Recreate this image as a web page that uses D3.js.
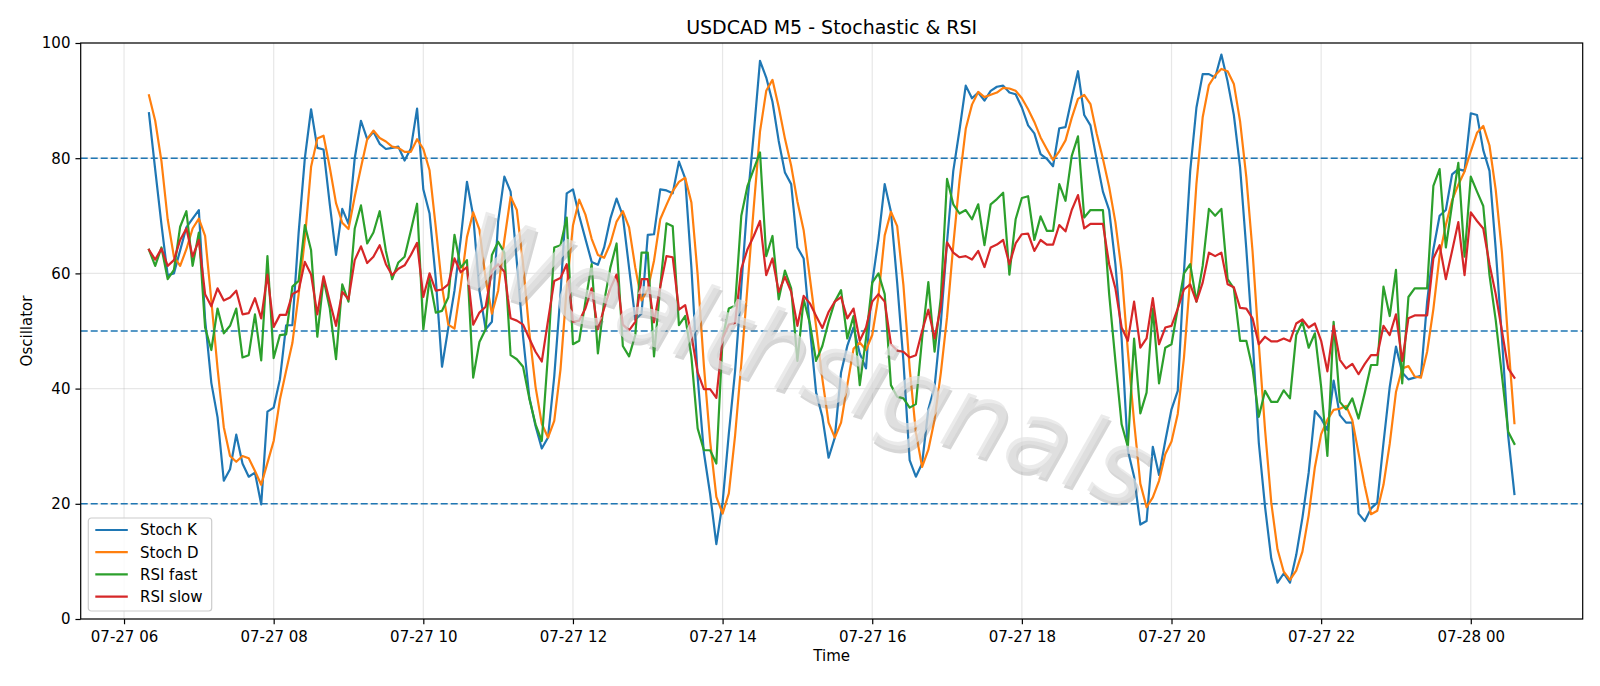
<!DOCTYPE html>
<html><head><meta charset="utf-8">
<script src="https://cdn.jsdelivr.net/npm/d3@7/dist/d3.min.js"></script>
<style>
body{margin:0;background:#fff;}
svg{display:block;}
text{font-family:"DejaVu Sans",sans-serif;fill:#000;}
</style>
</head><body>
<svg id="chart" width="1600" height="686"></svg>
<script>
// ---- data (M5 bars from 07-27 06:20 to 07-28 00:35) ----
const startTime = new Date(2024, 6, 27, 6, 20);
const stepMinutes = 5;
const stochK = [87.8,78,68.5,59.7,60,64,68,69.5,71,52,41,35,24,26,32,27,24.7,25.4,19.9,36,
36.7,41.6,51,51,67,80,88.5,81.8,81.5,72,63.2,71.2,68.6,80,86.5,83.3,84.6,82.5,81.6,81.8,
82,79.6,81.7,88.6,74.6,70.4,59,43.8,50.5,57,66,75.9,70,57,50.3,51.6,69,76.8,74.2,62,
49,38.5,33.5,29.6,31.5,42.1,56.4,73.9,74.6,70,66,62,61.5,64.5,69.5,73,70,61,52,53,
66.7,66.8,74.6,74.4,73.9,79.4,76.5,61,42,28.9,21.7,13,20.2,32.2,43,57.7,72.6,84.3,96.9,94,
89.8,83,77.5,75.5,64.5,62.6,50.6,39.3,35.1,28,31.5,42.8,47.4,50.6,46.1,43.5,58.4,66,75.5,70.7,
58.4,44.8,27.6,24.7,27,36.4,40.3,51.3,65.5,77.8,84.9,92.6,90.4,91.4,90,91.7,92.4,92.6,91.4,91.1,
88.8,85.7,84.3,80.7,79.9,78.6,85.2,85.4,90.4,95.1,87.5,85.7,79.7,74.2,71,61.6,48.7,29.3,24.7,16.4,
17,29.9,25,30.9,36.4,39.6,60.3,77.8,88.8,94.6,94.6,94,98,93.3,87.5,78.4,64.2,48.7,30.6,19.5,
10.5,6.3,7.9,6.3,11.1,17.6,25.4,36.1,34.8,32.8,41.4,35.4,34.1,34.1,18.3,17,19.2,20.2,30.6,40.3,
47.3,42.8,41.6,41.9,42.2,55.1,64.2,70,71,77.2,78.1,77.8,87.8,87.5,81.4,77.8,64.2,48.7,31.8,21.7];
const stochD = [90.9,86.5,79.5,69.4,62.9,61.3,64.2,67.8,69.5,66.5,55.3,43.5,33.3,28.3,27.3,28.3,27.9,25.7,23.3,27.1,
30.9,38.1,43.1,47.9,56.3,66,78.5,83.4,83.9,78.4,72.2,68.8,67.7,73.3,78.4,83.3,84.8,83.5,82.9,82,
81.8,81.1,81.1,83.3,81.6,77.9,68,57.7,51.1,50.4,57.8,66.3,70.6,67.6,59.1,53,57,65.8,73.3,71,
61.7,49.8,40.3,33.9,31.5,34.4,43.3,57.5,68.3,72.8,70.2,66,63.2,62.7,65.2,69,70.8,68,61,55.3,
57.2,62.2,69.4,71.9,74.3,75.9,76.6,72.3,59.8,44,30.9,21.2,18.3,21.8,31.8,44.3,57.8,71.5,84.6,91.7,
93.6,88.9,83.4,78.7,72.5,67.5,59.2,50.8,41.7,34.1,31.5,34.1,40.6,46.9,48,46.7,49.3,56,66.6,70.7,
68.2,58,43.6,32.4,26.4,29.4,34.6,42.7,52.4,64.9,76.1,85.1,89.3,91.5,90.6,91,91.4,92.2,92.1,91.7,
90.4,88.5,86.3,83.6,81.6,79.7,81.2,83.1,87,90.3,91,89.4,84.3,79.9,75,68.9,60.4,46.5,34.2,23.5,
19.4,21.1,24,28.6,30.8,35.6,45.4,59.2,75.6,87.1,92.7,94.4,95.5,95.1,92.9,86.4,76.7,63.8,47.8,32.9,
20.2,12.1,8.2,6.8,8.4,11.7,18,26.4,32.1,34.6,36.3,36.5,37,34.5,28.8,23.1,18.2,18.8,23.3,30.4,
39.4,43.5,43.9,42.1,41.9,46.4,53.8,63.1,68.4,72.7,75.4,77.7,81.2,84.4,85.6,82.2,74.5,63.6,48.2,34];
const rsiFast = [64.1,61.3,64.5,59,60.6,68.1,70.8,61.3,67.1,50.6,46.7,53.9,49.6,50.9,53.9,45.4,45.8,52.9,44.9,63,
45.3,49.3,49.4,57.7,58.7,68.4,64,49,59,53.9,45.1,58.1,55.1,67.8,71.8,65.2,67.1,70.8,63.9,59,
61.9,62.9,67.4,72.1,50.3,59,53.2,53.5,55.8,66.7,61,62.3,41.9,48.1,50.3,63.2,65.5,63.6,45.8,45.1,
43.8,38.3,33.8,30.9,46,64.5,64.9,69.7,47.7,48.3,55.1,61.6,46.1,55.1,61,65.2,47.4,45.6,49.3,63.6,
63.6,45.6,57.7,68.7,68.2,51,52.6,45.5,33.1,29.3,29.3,27,48.7,53.9,54.4,70,75.2,78.1,81,63,
66.5,55.5,60.5,57.4,44.8,55.5,51.3,44.8,47.4,51.6,55.1,57.1,48.7,52.6,40.6,48.7,58.4,60,56.4,40.6,
38.6,38.3,36.7,37.3,48.7,58.5,46.4,55.8,76.4,72,70.4,71,69.4,72,64.9,72,72.9,74,59.8,69.4,
73.1,73.4,65.8,69.9,67.4,67.4,75.5,72.6,80.4,83.8,69.7,71,71,71,56.4,44.8,33.8,29.9,48.7,35.7,
39.3,53.9,40.9,47.1,47.7,53.9,60,61.6,55.1,61.3,71.2,70,71.2,59,57.4,48.3,48.3,43.5,35.1,39.6,
37.7,37.7,39.7,38.3,49.3,51.6,47.1,49.6,40.3,28.3,51.6,37.7,36.4,38.3,34.8,39.3,44.1,44.1,57.7,52.6,
60.6,40.9,55.9,57.4,57.4,57.4,75.2,78.1,64.5,72,79.2,62.9,76.8,74.2,71.7,59.7,51.9,42.2,32.5,30.4];
const rsiSlow = [64.1,62.4,64.3,61.3,62.3,65.8,67.8,62.9,65.8,56.4,54.3,57.4,55.3,55.8,57,52.9,53.1,55.7,52.2,59.8,
50.7,52.8,52.8,56.4,57,62,59.8,52.9,59.5,55.1,50.9,56.8,55.5,62.3,64.7,61.8,62.9,64.9,61.6,59.7,
60.8,61.4,63.2,65.3,55.9,60,57,57.2,58.1,62.6,60.2,61.1,51.1,53.2,54.2,60.5,61.6,60.3,52.2,51.8,
51.1,48.7,46.4,44.7,51.8,58.7,59.2,61.6,51.6,51.8,53.9,57.4,50.3,53.9,57.4,59.8,51.1,50.1,51.6,59,
59,51.5,57.7,63,62.8,53.7,54.5,49.3,42.8,39.9,39.9,38.4,48.7,51.1,51.4,60.8,64.2,66.5,69.1,59.7,
62.6,56.8,59.4,56.8,50.9,56.1,54.8,52.6,50.5,53.3,55.1,55.9,52.2,53.9,48.3,50.6,55.1,56.4,55.1,47.7,
46.6,46.4,45.4,45.8,50,53.7,48.7,54.2,65.4,63.6,62.8,63,62.4,63.9,61.1,64.5,65,65.8,61.6,65.2,
66.8,66.9,63.9,65.8,65,65,68.4,67.3,71,73.6,67.8,68.6,68.6,68.6,61.6,57.4,50.6,48.3,55.1,47.1,
48.7,55.7,47.7,50.6,50.9,53.9,57.2,58.1,55.1,58.4,63.6,63,63.6,58.1,57.6,54,53.9,52.2,47.7,49,
48.2,48.2,48.7,48.2,51.3,52,50.6,51.3,48.3,43,50.9,45,43.5,44.3,42.5,44.3,45.8,45.8,50.9,49.3,
52.9,44.8,52.2,52.7,52.7,52.7,62.6,64.9,59,63.9,68.9,59.7,70.6,69.1,67.8,61.6,56.4,50,43.5,41.9];
const seriesNames = ["Stoch K","Stoch D","RSI fast","RSI slow"];
const seriesColors = ["#1f77b4","#ff7f0e","#2ca02c","#d62728"];
const yTicks = [0,20,40,60,80,100];
const levels = [20,50,80];
const titleText = "USDCAD M5 - Stochastic & RSI";
const xLabel = "Time";
const yLabel = "Oscillator";
const watermark = "Wealthsignals";

// ---- build ----
const times = stochK.map((_, i) => d3.timeMinute.offset(startTime, i * stepMinutes));
const allSeries = [stochK, stochD, rsiFast, rsiSlow];

const W = 1600, H = 686;
const plot = {left: 80.7, right: 1582.7, top: 43, bottom: 619};
const svg = d3.select("#chart");

const t0 = +times[0], t1 = +times[times.length - 1];
const pad = (t1 - t0) * 0.05;
const x = d3.scaleTime().domain([new Date(t0 - pad), new Date(t1 + pad)]).range([plot.left, plot.right]);
const y = d3.scaleLinear().domain([0, 100]).range([plot.bottom, plot.top]);

svg.append("rect").attr("width", W).attr("height", H).attr("fill", "#fff");

const xTickVals = x.ticks(d3.timeHour.every(2));
const fmt = d3.timeFormat("%m-%d %H");

// grid
const grid = svg.append("g").attr("stroke", "#b0b0b0").attr("stroke-opacity", 0.3).attr("stroke-width", 1.2);
xTickVals.forEach(t => grid.append("line").attr("x1", x(t)).attr("x2", x(t)).attr("y1", plot.top).attr("y2", plot.bottom));
yTicks.forEach(v => grid.append("line").attr("x1", plot.left).attr("x2", plot.right).attr("y1", y(v)).attr("y2", y(v)));

// level lines
levels.forEach(v => svg.append("line")
  .attr("x1", plot.left).attr("x2", plot.right).attr("y1", y(v)).attr("y2", y(v))
  .attr("stroke", "#1f77b4").attr("stroke-width", 1.5).attr("stroke-dasharray", "7,3"));

// clip
svg.append("clipPath").attr("id", "clip").append("rect")
  .attr("x", plot.left).attr("y", plot.top).attr("width", plot.right - plot.left).attr("height", plot.bottom - plot.top);

const line = d3.line().x((d, i) => x(times[i])).y(d => y(d));
const lg = svg.append("g").attr("clip-path", "url(#clip)");
allSeries.forEach((s, k) => lg.append("path").attr("d", line(s)).attr("fill", "none")
  .attr("stroke", seriesColors[k]).attr("stroke-width", 2.2).attr("stroke-linejoin", "round").attr("stroke-linecap", "square"));

// axes
const xAxis = svg.append("g").attr("transform", `translate(0,${plot.bottom})`)
  .call(d3.axisBottom(x).tickValues(xTickVals).tickFormat(fmt).tickSizeOuter(0).tickSize(5.25).tickPadding(5));
const yAxis = svg.append("g").attr("transform", `translate(${plot.left},0)`)
  .call(d3.axisLeft(y).tickValues(yTicks).tickSizeOuter(0).tickSize(5.25).tickPadding(5));
[xAxis, yAxis].forEach(a => {
  a.select(".domain").remove();
  a.selectAll(".tick line").attr("stroke", "#000").attr("stroke-width", 1.2);
  a.selectAll(".tick text").attr("font-size", 15).attr("font-family", "DejaVu Sans").attr("fill", "#000");
});
xAxis.selectAll(".tick text").attr("dy", "0.85em");

// spines
svg.append("rect").attr("x", plot.left).attr("y", plot.top)
  .attr("width", plot.right - plot.left).attr("height", plot.bottom - plot.top)
  .attr("fill", "none").attr("stroke", "#000").attr("stroke-width", 1.2);

// labels
svg.append("text").attr("x", (plot.left + plot.right) / 2).attr("y", 34).attr("text-anchor", "middle")
  .attr("font-size", 19).text(titleText);
svg.append("text").attr("x", (plot.left + plot.right) / 2).attr("y", 661).attr("text-anchor", "middle")
  .attr("font-size", 15).text(xLabel);
svg.append("text").attr("transform", `translate(31.5,${(plot.top + plot.bottom) / 2}) rotate(-90)`)
  .attr("text-anchor", "middle").attr("font-size", 15).text(yLabel);

// legend
const leg = svg.append("g").attr("transform", "translate(88.3,518)");
leg.append("rect").attr("width", 123.4).attr("height", 93).attr("rx", 3)
  .attr("fill", "#fff").attr("fill-opacity", 0.8).attr("stroke", "#cccccc").attr("stroke-width", 1.2);
seriesNames.forEach((n, k) => {
  const yy = 12 + k * 22.2;
  leg.append("line").attr("x1", 7).attr("x2", 39.5).attr("y1", yy).attr("y2", yy)
    .attr("stroke", seriesColors[k]).attr("stroke-width", 2.2);
  leg.append("text").attr("x", 51.7).attr("y", yy).attr("dy", "0.36em").attr("font-size", 15).text(n);
});

// watermark (thin light text with a soft darker shadow)
const wm = svg.append("g").attr("transform", "translate(806,360) rotate(18.5)");
wm.append("text").attr("x", 3).attr("y", 3).attr("text-anchor", "middle").attr("dominant-baseline", "central")
  .attr("font-size", 103).attr("font-weight", 200).attr("font-style", "italic")
  .style("fill", "#808080").attr("fill-opacity", 0.32).text(watermark);
wm.append("text").attr("text-anchor", "middle").attr("dominant-baseline", "central")
  .attr("font-size", 103).attr("font-weight", 200).attr("font-style", "italic")
  .style("fill", "#e2e2e2").attr("fill-opacity", 0.7).text(watermark);
</script>
</body></html>
